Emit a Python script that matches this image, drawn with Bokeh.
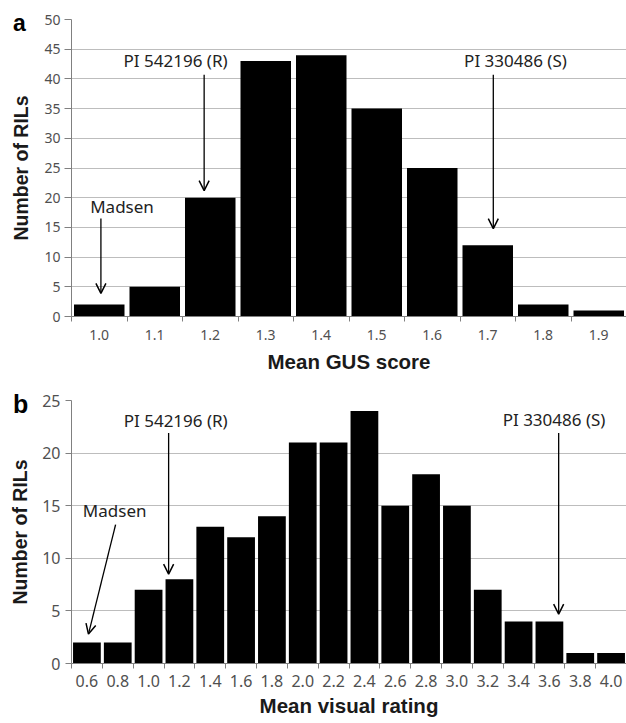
from bokeh.plotting import figure
from bokeh.models import Range1d, FixedTicker, Arrow, OpenHead, Label, Div
from bokeh.layouts import column
from bokeh.embed import file_html
from bokeh.resources import INLINE

# ---- data ----
gus_bins = ["1.0", "1.1", "1.2", "1.3", "1.4", "1.5", "1.6", "1.7", "1.8", "1.9"]
gus_counts = [2, 5, 20, 43, 44, 35, 25, 12, 2, 1]

vis_bins = ["0.6", "0.8", "1.0", "1.2", "1.4", "1.6", "1.8", "2.0", "2.2",
            "2.4", "2.6", "2.8", "3.0", "3.2", "3.4", "3.6", "3.8", "4.0"]
vis_counts = [2, 2, 7, 8, 13, 12, 14, 21, 21, 24, 15, 18, 15, 7, 4, 4, 1, 1]

gus_yticks = [0, 5, 10, 15, 20, 25, 30, 35, 40, 45, 50]
vis_yticks = [0, 5, 10, 15, 20, 25]

# annotations: (text, text_x, text_y, arrow x_start, y_start, x_end, y_end)
# x in bin-index units, y in counts
gus_notes = [
    ("Madsen", 0.41, 18.5, 0.03, 16.5, 0.03, 3.9),
    ("PI 542196 (R)", 1.375, 43.1, 1.89, 40.7, 1.89, 21.2),
    ("PI 330486 (S)", 7.5, 43.1, 7.1, 40.7, 7.1, 14.8),
]
vis_notes = [
    ("Madsen", 0.9, 14.5, 0.93, 13.2, 0.05, 2.8),
    ("PI 542196 (R)", 2.88, 23.1, 2.65, 21.9, 2.65, 8.5),
    ("PI 330486 (S)", 15.15, 23.2, 15.3, 21.9, 15.3, 4.7),
]

TITLEFONT = "Liberation Sans"
TEXTFONT = "Noto Sans"


def make_panel(bins, counts, yticks, xtitle, notes, bar_w, w, h,
               left, top, bottom, tick_fs, ytick_len, ylab_standoff,
               ytitle_standoff, lab_standoff, title_standoff):
    n = len(bins)
    xs = list(range(n))
    p = figure(width=w, height=h, output_backend="svg", toolbar_location=None,
               x_range=Range1d(-0.5, n - 0.5), y_range=Range1d(0, yticks[-1]),
               min_border_left=left, min_border_right=0,
               min_border_top=top, min_border_bottom=bottom)
    p.outline_line_color = None
    p.vbar(x=xs, top=counts, width=bar_w, fill_color="black", line_color=None)

    p.xaxis.ticker = FixedTicker(ticks=xs, minor_ticks=[i - 0.5 for i in range(n + 1)])
    p.xaxis.major_label_overrides = {i: b for i, b in zip(xs, bins)}
    p.xaxis.major_tick_line_color = None
    p.xaxis.major_tick_out = 5
    p.xaxis.major_tick_in = 0
    p.xaxis.minor_tick_line_color = "#808080"
    p.xaxis.minor_tick_out = 5
    p.xaxis.minor_tick_in = 0
    p.xaxis.axis_line_color = "#808080"
    p.xaxis.major_label_standoff = lab_standoff
    p.xaxis.axis_label = xtitle
    p.xaxis.axis_label_standoff = title_standoff

    p.yaxis.ticker = FixedTicker(ticks=yticks)
    p.yaxis.major_tick_out = ytick_len
    p.yaxis.major_tick_in = 0
    p.yaxis.major_tick_line_color = "#808080"
    p.yaxis.axis_line_color = "#808080"
    p.yaxis.minor_tick_line_color = None
    p.yaxis.major_label_standoff = ylab_standoff
    p.yaxis.axis_label = "Number of RILs"
    p.yaxis.axis_label_standoff = ytitle_standoff

    for ax in (p.xaxis[0], p.yaxis[0]):
        ax.major_label_text_font = TEXTFONT
        ax.major_label_text_font_size = tick_fs
        ax.major_label_text_color = "#505050"
        ax.axis_label_text_font = TITLEFONT
        ax.axis_label_text_font_style = "bold"
        ax.axis_label_text_color = "#1a1a1a"
    p.xaxis.axis_label_text_font_size = "20.5px"
    p.yaxis.axis_label_text_font_size = "19.5px"

    p.xgrid.visible = False
    p.ygrid.grid_line_color = "#bdbdbd"
    p.ygrid.grid_line_width = 1.2

    for (txt, tx, ty, x0, y0, x1, y1) in notes:
        p.add_layout(Label(x=tx, y=ty, text=txt, text_font=TEXTFONT,
                           text_font_size="17px", text_color="#222222",
                           text_align="center", text_baseline="middle"))
        p.add_layout(Arrow(x_start=x0, y_start=y0, x_end=x1, y_end=y1,
                           line_color="black", line_width=1.3,
                           end=OpenHead(size=10, line_color="black", line_width=1.5)))
    return p


def letter(txt, left, top, size):
    return Div(text=txt, styles={
        "position": "absolute", "left": f"{left}px", "top": f"{top}px",
        "font-family": TITLEFONT, "font-weight": "bold",
        "font-size": f"{size}px", "line-height": f"{size}px", "color": "black",
        "margin": "0", "padding": "0"})


pa = make_panel(gus_bins, gus_counts, gus_yticks, "Mean GUS score",
                gus_notes, 0.91, 626, 377, 67, 19, 61, "14px", 7, 4, 9, 8, 7)
pb = make_panel(vis_bins, vis_counts, vis_yticks, "Mean visual rating",
                vis_notes, 0.9, 626, 346, 71, 23, 60, "16px", 6, 5, 8, 6, 4)

div_a = letter("a", 13, 12, 23)
div_b = letter("b", 13, 392, 25)

layout = column(pa, pb, div_a, div_b, spacing=0)
open("out.html", "w").write(file_html(layout, INLINE))
